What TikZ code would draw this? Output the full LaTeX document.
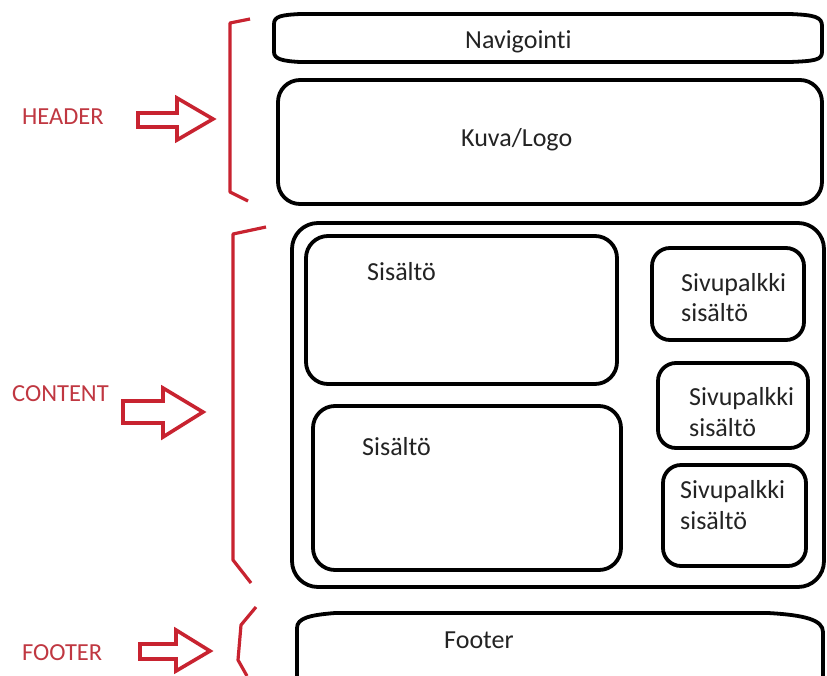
\documentclass[tikz,border=0pt]{standalone}
\usepackage{fontspec}
\setmainfont{Carlito}[Ligatures=CommonOff]
\definecolor{redline}{RGB}{200,35,48}
\definecolor{redtext}{RGB}{192,55,65}
\definecolor{ink}{RGB}{35,35,35}
\begin{document}
\begin{tikzpicture}[x=1pt,y=-1pt,
  wbox/.style={draw=black,line width=3.8pt,rounded corners=22pt,inner sep=0pt,outer sep=0pt},
  sbox/.style={draw=black,line width=3.8pt,rounded corners=18pt,inner sep=0pt,outer sep=0pt},
  bk/.style={draw=black,line width=3.8pt,line join=round},
  brk/.style={draw=redline,line width=3.2pt,line join=round},
  barrow/.style={draw=redline,line width=3.6pt,line join=miter,fill=white},
  lbl/.style={font=\fontsize{26}{30}\selectfont,text=ink,inner sep=0pt,anchor=base west},
  rlbl/.style={font=\fontsize{24.5}{28}\selectfont,text=redtext,inner sep=0pt,anchor=west}
]
\useasboundingbox (0,0) rectangle (827,675);
\fill[white] (0,0) rectangle (827,675);

% ---------- boxes ----------
\draw[bk] (274,24) .. controls (274,16) and (282,15) .. (300,14)
  -- (790,14) .. controls (815,15) and (822,17) .. (822,26)
  -- (822,52) .. controls (822,60) and (815,61) .. (790,62)
  -- (300,62) .. controls (282,61) and (274,59) .. (274,52) -- cycle;
\coordinate (navc) at (518,40);

\node[wbox,minimum width=544pt,minimum height=124pt] (kuva) at (550,142) {};
\node[wbox,rounded corners=26pt,minimum width=532pt,minimum height=364pt] (content) at (558,405) {};
\node[wbox,minimum width=311pt,minimum height=148pt] (sis1) at (461.5,310) {};
\node[wbox,minimum width=308pt,minimum height=164pt] (sis2) at (467,488) {};
\node[sbox,minimum width=152pt,minimum height=92pt] (siv1) at (728,294) {};
\node[sbox,minimum width=150pt,minimum height=85pt] (siv2) at (733,405.5) {};
\node[sbox,minimum width=143pt,minimum height=101pt] (siv3) at (734.5,515.5) {};

\draw[bk] (297,680) -- (297,628) .. controls (297,618) and (310,615) .. (335,613)
  -- (768,613) .. controls (805,615) and (823,620) .. (823,632) -- (823,680);

% ---------- texts ----------
\node[lbl] (tnav) at (465,48) {Navigointi};
\node[lbl] (tkuva) at (461,146) {Kuva/Logo};
\node[lbl] (ts1) at (367,280) {Sisältö};
\node[lbl] (ts2) at (362,455) {Sisältö};
\node[lbl] (tv1a) at (681,291) {Sivupalkki};
\node[lbl] (tv1b) at (681,321) {sisältö};
\node[lbl] (tv2a) at (689,405) {Sivupalkki};
\node[lbl] (tv2b) at (689,436) {sisältö};
\node[lbl] (tv3a) at (680,498) {Sivupalkki};
\node[lbl] (tv3b) at (680,529) {sisältö};
\node[lbl] (tfoot) at (444,648) {Footer};

\node[rlbl] (hh) at (22,117) {HEADER};
\node[rlbl] (hc) at (12,394) {CONTENT};
\node[rlbl] (hf) at (22,653) {FOOTER};

% ---------- red brackets ----------
\draw[brk] (250,19) -- (230,23) -- (230,192) -- (248,201);
\draw[brk] (266,227) -- (233,234) -- (233,560) -- (251,583);
\draw[brk] (256,607) -- (241,625) -- (238,660) -- (247,676);

% ---------- block arrows ----------
\draw[barrow] (138,113) -- (177,113) -- (177,98) -- (213,119) -- (177,140) -- (177,127) -- (138,127) -- cycle;
\draw[barrow] (123,401) -- (163,401) -- (163,388) -- (203,412) -- (163,437) -- (163,423) -- (123,423) -- cycle;
\draw[barrow] (140,644) -- (176,644) -- (176,630) -- (210,651) -- (176,671) -- (176,659) -- (140,659) -- cycle;
\end{tikzpicture}
\end{document}
